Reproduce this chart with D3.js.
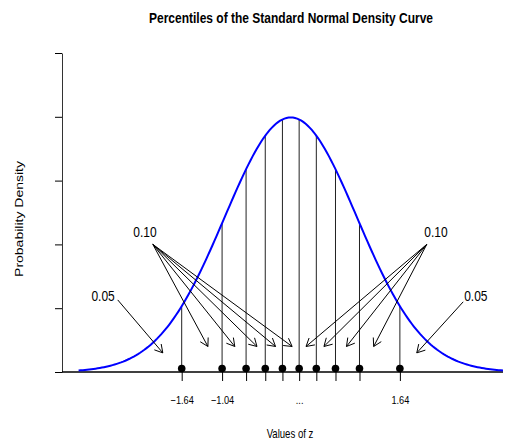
<!DOCTYPE html>
<html>
<head>
<meta charset="utf-8">
<script src="https://cdn.jsdelivr.net/npm/d3@7"></script>
<style>
  body { margin: 0; background: #fff; }
  text { font-family: "Liberation Sans", Arial, Helvetica, sans-serif; fill: #000; }
</style>
</head>
<body>
<svg id="chart"></svg>
<script>
// Percentile z values (5%, 15%, ... 95%) and their axis labels
const pctZ = [-1.645, -1.036, -0.674, -0.385, -0.126, 0.126, 0.385, 0.674, 1.036, 1.645];
const tickLabels = ["\u22121.64", "\u22121.04", "", "", "", "...", "", "", "", "1.64"];
const yTicks = [0, 0.1, 0.2, 0.3, 0.4, 0.5];

// Arrow annotations: label text, label position, arrow start, arrow tips
const arrowLabels = ["0.10", "0.10", "0.05", "0.05"];
const labelPos = [[-2.20, 0.22], [2.19, 0.22], [-2.83, 0.12], [2.79, 0.12]];
const arrowFrom = [[-2.08, 0.2], [2.05, 0.2], [-2.61, 0.113], [2.60, 0.11]];
const arrowTipZ = [
    [-1.25, -0.845, -0.51, -0.23, 0.02],
    [0.23, 0.50, 0.84, 1.25],
    [-1.93],
    [1.90]
];
const arrowTipY = [0.04, 0.04, 0.03, 0.03];

// curve range
const zLo = -3.2, zHi = 3.2;

const W = 509, H = 443;
const svg = d3.select('#chart').attr('width', W).attr('height', H);

const xScale = d3.scaleLinear().domain([-3.45, 3.2]).range([62, 503]);
const yScale = d3.scaleLinear().domain([0, 0.5]).range([372, 53]);

const dnorm = z => Math.exp(-z * z / 2) / Math.sqrt(2 * Math.PI);

// squeezed text helper (the reference uses a narrow face)
function label(x, y, txt, size, opts = {}) {
    return svg.append('text')
        .attr('transform', `translate(${x},${y}) ${opts.rotate ? 'scale(0.78,1) rotate(-90)' : 'scale(0.8,1)'}`)
        .attr('text-anchor', 'middle')
        .attr('font-size', size)
        .attr('font-weight', opts.bold ? 'bold' : null)
        .text(txt);
}

// y axis: ticks only, no labels
svg.append('g')
    .attr('transform', 'translate(62,0)')
    .call(d3.axisLeft(yScale).tickValues(yTicks).tickFormat('').tickSize(7).tickSizeOuter(0))
    .call(g => g.select('.domain').attr('stroke', '#333'));

// x axis ticks at the percentiles
const xAxis = svg.append('g')
    .attr('transform', `translate(0,${yScale(0)})`)
    .call(d3.axisBottom(xScale).tickValues(pctZ).tickSize(9).tickPadding(16)
        .tickFormat((d, i) => tickLabels[i]));
xAxis.select('.domain').remove();
xAxis.attr('font-size', null).attr('font-family', null);
xAxis.selectAll('text')
    .style('font-size', '11.5px')
    .attr('dy', '0.62em')
    .attr('transform', 'scale(0.8,1)');

// baseline
svg.append('line')
    .attr('x1', xScale.range()[0]).attr('x2', xScale.range()[1])
    .attr('y1', yScale(0)).attr('y2', yScale(0))
    .attr('stroke', '#000').attr('stroke-width', 1.5);

// vertical percentile lines
svg.selectAll('.pline')
    .data(pctZ)
    .enter().append('line')
    .attr('class', 'pline')
    .attr('x1', d => xScale(d)).attr('x2', d => xScale(d))
    .attr('y1', yScale(0)).attr('y2', d => yScale(dnorm(d)))
    .attr('stroke', '#222').attr('stroke-width', 1);

// density curve
const curvePts = d3.range(0, 201).map(i => zLo + (zHi - zLo) * i / 200);
svg.append('path')
    .datum(curvePts)
    .attr('fill', 'none')
    .attr('stroke', '#0000ff')
    .attr('stroke-width', 2)
    .attr('d', d3.line().x(d => xScale(d)).y(d => yScale(dnorm(d))));

// percentile points
svg.selectAll('.pt')
    .data(pctZ)
    .enter().append('circle')
    .attr('class', 'pt')
    .attr('cx', d => xScale(d))
    .attr('cy', yScale(0) - 3.5)
    .attr('r', 3.8)
    .attr('fill', '#000');

// arrows
function arrow(x0, y0, x1, y1) {
    const a = Math.atan2(y1 - y0, x1 - x0);
    const len = 9, spread = Math.PI / 6;
    const p1 = [x1 - len * Math.cos(a - spread), y1 - len * Math.sin(a - spread)];
    const p2 = [x1 - len * Math.cos(a + spread), y1 - len * Math.sin(a + spread)];
    svg.append('path')
        .attr('d', `M${x0},${y0}L${x1},${y1}M${p1[0]},${p1[1]}L${x1},${y1}L${p2[0]},${p2[1]}`)
        .attr('fill', 'none')
        .attr('stroke', '#000')
        .attr('stroke-width', 1);
}

arrowFrom.forEach((f, k) => {
    arrowTipZ[k].forEach(z => {
        arrow(xScale(f[0]), yScale(f[1]), xScale(z), yScale(arrowTipY[k]));
    });
    label(xScale(labelPos[k][0]), yScale(labelPos[k][1]) + 5.3, arrowLabels[k], 15);
});

// titles
label(291, 23, 'Percentiles of the Standard Normal Density Curve', 15, { bold: true });
label(290, 438, 'Values of z', 12);
label(23, 219, 'Probability Density', 14, { rotate: true });
</script>
</body>
</html>
